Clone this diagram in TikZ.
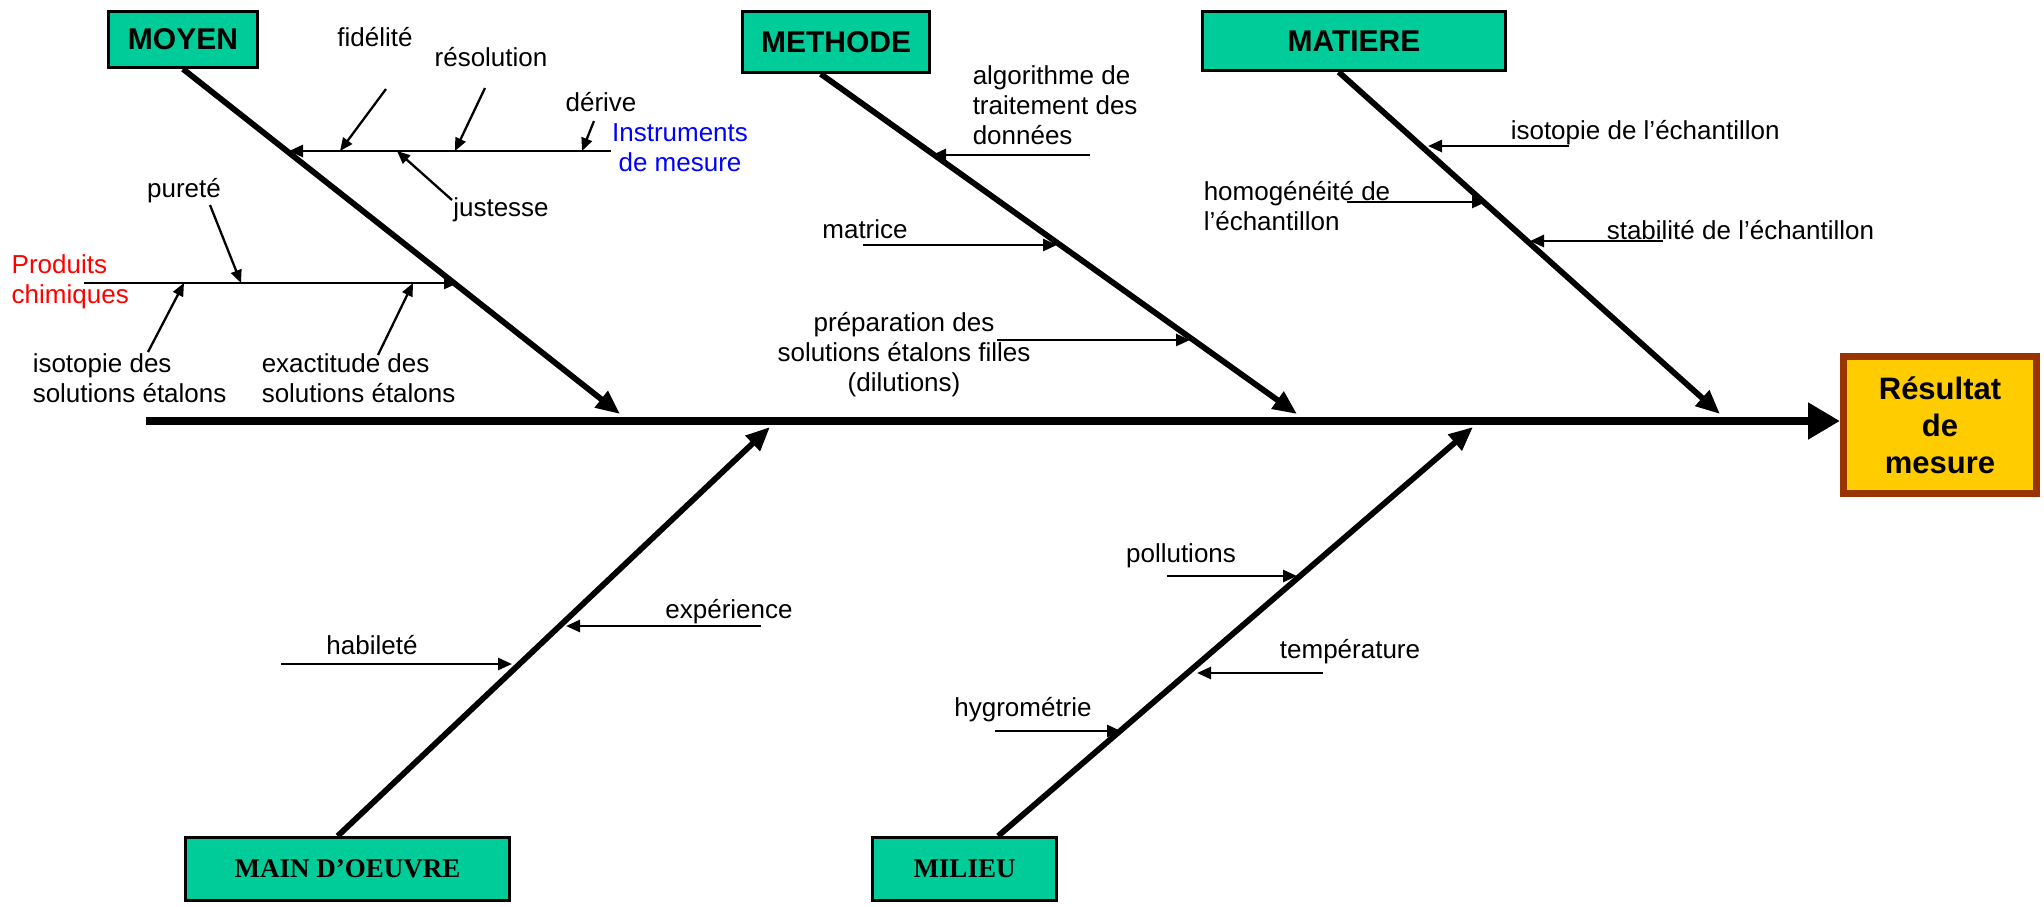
\documentclass[tikz,border=0pt]{standalone}
\usepackage{fontspec}
\setmainfont{Liberation Serif}
\setsansfont{Liberation Sans}
\usetikzlibrary{arrows.meta,calc}
\definecolor{catgreen}{RGB}{0,204,153}
\definecolor{resgold}{RGB}{255,204,0}
\definecolor{resbrown}{RGB}{153,51,0}
\tikzset{
cause/.style={draw=black, line width=1.5pt, fill=catgreen, inner sep=0pt,
  font=\sffamily\bfseries\fontsize{15}{18}\selectfont},
causeb/.style={cause, font=\rmfamily\bfseries\fontsize{13.5}{16}\selectfont},
lbl/.style={inner sep=0pt, font=\sffamily\fontsize{13}{15}\selectfont},
spine/.style={line width=4pt, -{Triangle[length=16pt,width=17.5pt]}},
bone/.style={line width=2.9pt, -{Triangle[length=12pt,width=10pt]}},
twig/.style={line width=1.3pt, -{Triangle[length=7pt,width=6pt]}},
pointer/.style={line width=1.15pt, -{Triangle[length=6.5pt,width=5.5pt]}}}
\tikzset{every picture/.style={line width=0.75pt}}

\begin{document}
\begin{tikzpicture}[x=0.5pt,y=0.5pt,yscale=-1,xscale=1]
\useasboundingbox (0,0) rectangle (2044,906);

%Shape: Rectangle [id:moyen]
\node[cause, minimum width=74.5pt, minimum height=28pt] (moyen) at (183,39.5) {MOYEN};
%Shape: Rectangle [id:methode]
\node[cause, minimum width=93.5pt, minimum height=30.5pt] (methode) at (836,42) {METHODE};
%Shape: Rectangle [id:matiere]
\node[cause, minimum width=151.5pt, minimum height=29.5pt] (matiere) at (1354,41) {MATIERE};
%Shape: Rectangle [id:maindoeuvre]
\node[causeb, minimum width=162pt, minimum height=31.5pt] (maindoeuvre) at (347.5,869) {MAIN D’OEUVRE};
%Shape: Rectangle [id:milieu]
\node[causeb, minimum width=92pt, minimum height=31.5pt] (milieu) at (964.5,869) {MILIEU};
%Shape: Rectangle [id:result]
\node[draw=resbrown, line width=3.5pt, fill=resgold, inner sep=0pt, align=center,
  minimum width=96.5pt, minimum height=68.5pt,
  font=\sffamily\bfseries\fontsize{15.5}{18.5}\selectfont] (result) at (1940,425) {Résultat\\de\\mesure};

%Straight Lines [id:spine]
\coordinate (spS) at (146,421);
\draw[spine] (spS) -- (spS -| result.west);

%Straight Lines [id:bones]
\coordinate (methS) at ($(methode.south west)!0.42!(methode.south east)$);
\coordinate (matS) at ($(matiere.south west)!0.45!(matiere.south east)$);
\coordinate (mainS) at ($(maindoeuvre.north west)!0.47!(maindoeuvre.north east)$);
\coordinate (milS) at ($(milieu.north west)!0.68!(milieu.north east)$);
\coordinate (moyT) at (620,414);
\coordinate (methT) at (1297,414);
\coordinate (matT) at (1720,414);
\coordinate (mainT) at (770,427);
\coordinate (milT) at (1473,427);
\draw[bone] (moyen.south) -- (moyT);
\draw[bone] (methS) -- (methT);
\draw[bone] (matS) -- (matT);
\draw[bone] (mainS) -- (mainT);
\draw[bone] (milS) -- (milT);

% Text Node
\node[lbl, text=blue, align=center] (instr) at (680,148) {Instruments\\de mesure};
\node[lbl] (fid) at (375,37) {fidélité};
\node[lbl] (reso) at (491,57) {résolution};
\node[lbl] (deri) at (601,102) {dérive};
\node[lbl] (just) at (501,210) {justesse};
% Text Node
\node[lbl, text=red, align=left, anchor=west] (prod) at (11,282) {Produits\\chimiques};
\node[lbl] (pure) at (184,191) {pureté};
\node[lbl, align=left, anchor=west] (isoS) at (32,378) {isotopie des\\solutions étalons};
\node[lbl, align=left, anchor=west] (exac) at (261,378) {exactitude des\\solutions étalons};
% Text Node
\node[lbl, align=left, anchor=west] (algo) at (972,105) {algorithme de\\traitement des\\données};
\node[lbl] (matr) at (865,229) {matrice};
\node[lbl, align=center] (prep) at (904,355) {préparation des\\solutions étalons filles\\(dilutions)};
% Text Node
\node[lbl, anchor=west] (isoE) at (1510,133) {isotopie de l’échantillon};
\node[lbl, align=left, anchor=west] (homo) at (1203,206) {homogénéité de\\l’échantillon};
\node[lbl, anchor=west] (stab) at (1606,230) {stabilité de l’échantillon};
% Text Node
\node[lbl] (habi) at (372,645) {habileté};
\node[lbl] (expe) at (729,612) {expérience};
\node[lbl] (poll) at (1181,556) {pollutions};
\node[lbl] (temp) at (1350,652) {température};
\node[lbl] (hygr) at (1023,710) {hygrométrie};

%Straight Lines [id:moyen twigs]
\coordinate (instrT) at (289,151);
\draw[twig] (instr.west |- instrT) -- (instrT);
\coordinate (fidS) at (386,89);
\coordinate (fidT) at (340,151);
\draw[pointer] (fidS) -- (fidT);
\coordinate (resoS) at (485,88);
\coordinate (resoT) at (455,151);
\draw[pointer] (resoS) -- (resoT);
\coordinate (deriS) at (594,121);
\coordinate (deriT) at (582,151);
\draw[pointer] (deriS) -- (deriT);
\coordinate (justS) at (452,200);
\coordinate (justT) at (397,151);
\draw[pointer] (justS) -- (justT);
\coordinate (prodS) at (84,283);
\coordinate (prodT) at (458,283);
\draw[twig] (prodS) -- (prodT);
\coordinate (pureS) at (210,205);
\coordinate (pureT) at (241,283);
\draw[pointer] (pureS) -- (pureT);
\coordinate (isoSS) at (148,352);
\coordinate (isoST) at (184,283);
\draw[pointer] (isoSS) -- (isoST);
\coordinate (exacS) at (378,355);
\coordinate (exacT) at (413,283);
\draw[pointer] (exacS) -- (exacT);

%Straight Lines [id:methode twigs]
\coordinate (algoS) at (1090,155);
\coordinate (algoT) at (932,155);
\draw[twig] (algoS) -- (algoT);
\coordinate (matrS) at (863,245);
\coordinate (matrT) at (1057,245);
\draw[twig] (matrS) -- (matrT);
\coordinate (prepS) at (997,340);
\coordinate (prepT) at (1190,340);
\draw[twig] (prepS) -- (prepT);

%Straight Lines [id:matiere twigs]
\coordinate (isoES) at (1569,146);
\coordinate (isoET) at (1428,146);
\draw[twig] (isoES) -- (isoET);
\coordinate (homoS) at (1347,202);
\coordinate (homoT) at (1486,202);
\draw[twig] (homoS) -- (homoT);
\coordinate (stabS) at (1663,241);
\coordinate (stabT) at (1530,241);
\draw[twig] (stabS) -- (stabT);

%Straight Lines [id:main twigs]
\coordinate (habiS) at (281,664);
\coordinate (habiT) at (512,664);
\draw[twig] (habiS) -- (habiT);
\coordinate (expeS) at (761,626);
\coordinate (expeT) at (566,626);
\draw[twig] (expeS) -- (expeT);

%Straight Lines [id:milieu twigs]
\coordinate (pollS) at (1167,576);
\coordinate (pollT) at (1297,576);
\draw[twig] (pollS) -- (pollT);
\coordinate (tempS) at (1323,673);
\coordinate (tempT) at (1197,673);
\draw[twig] (tempS) -- (tempT);
\coordinate (hygrS) at (995,731);
\coordinate (hygrT) at (1121,731);
\draw[twig] (hygrS) -- (hygrT);

\end{tikzpicture}
\end{document}
